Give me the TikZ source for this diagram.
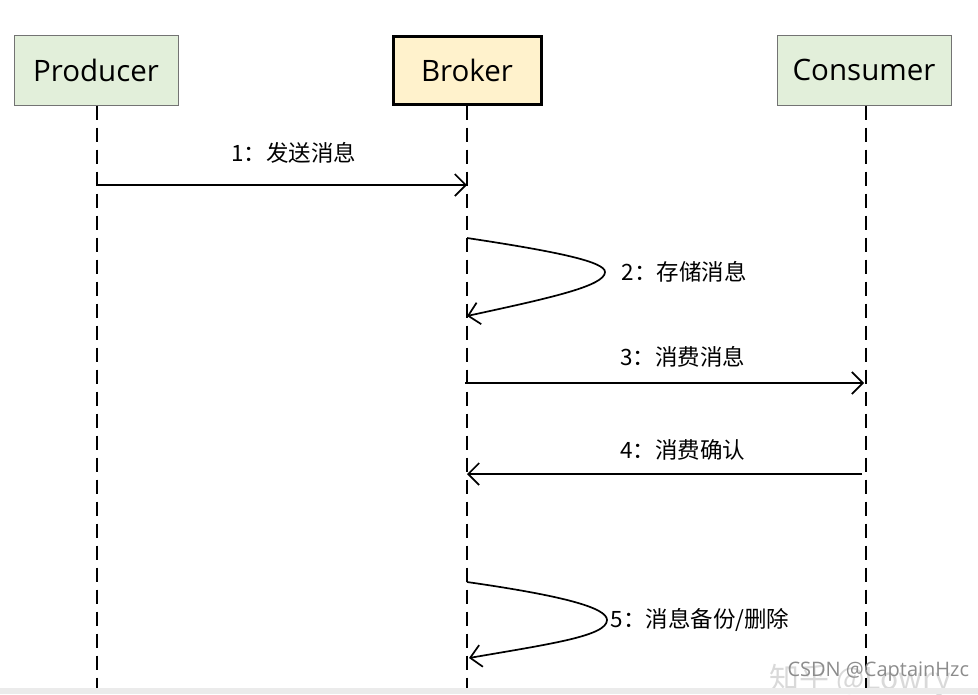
\documentclass[tikz,border=0pt]{standalone}
\usepackage{fontspec}
\setmainfont{Open Sans}
\newfontfamily\cjk{Noto Sans CJK SC}
\usepackage{tikz}
\usetikzlibrary{positioning, arrows.meta}

\definecolor{actorgreen}{HTML}{E2EFDA}
\definecolor{brokeryellow}{HTML}{FFF2CC}

\begin{document}
\begin{tikzpicture}[
    x=1pt, y=-1pt,
    actor/.style={rectangle, draw=black!55, fill=actorgreen, line width=1pt, minimum width=164pt, minimum height=70pt, font=\fontsize{29.5}{32}\selectfont},
    broker/.style={actor, draw=black, fill=brokeryellow, line width=3pt, minimum width=148pt, minimum height=68pt},
    lifeline/.style={line width=1.7pt, dash pattern=on 14pt off 8pt},
    msg/.style={line width=1.7pt, -{Straight Barb[length=11pt, width=22pt, line width=1.7pt]}},
    label/.style={font=\cjk\fontsize{22.5}{25}\selectfont},
    wmark/.style={font=\fontsize{20}{22}\selectfont},
]
\useasboundingbox (0,0) rectangle (978,694);

% Draw the actors
\node[actor] (P) at (96, 70) {Producer};
\node[broker] (B) at (467, 70) {Broker};
\node[actor, minimum width=174pt] (C) at (864, 70) {Consumer};

% lifelines
\coordinate (Pend) at (97, 694);
\coordinate (Bend) at (467, 694);
\coordinate (Cend) at (866, 694);
\draw[lifeline] (P.south -| Pend) -- (Pend);
\draw[lifeline] (B.south) -- (Bend);
\draw[lifeline] (C.south -| Cend) -- (Cend);

% messages
\coordinate (m1s) at (97, 185);
\coordinate (m1e) at (467, 185);
\draw[msg] (m1s) -- (m1e);
\node[label] (l1) at (294, 153) {1：发送消息};

\coordinate (m2s) at (467, 238);
\coordinate (m2t) at (605, 272);
\coordinate (m2e) at (467, 316);
\draw[msg] (m2s) .. controls (560, 252) and (605, 262) .. (m2t)
    .. controls (605, 286) and (550, 298) .. (m2e);
\node[label, anchor=west] (l2) at (618, 272) {2：存储消息};

\coordinate (m3s) at (465, 383);
\coordinate (m3e) at (864, 383);
\draw[msg] (m3s) -- (m3e);
\node[label] (l3) at (683, 357) {3：消费消息};

\coordinate (m4s) at (862, 474);
\coordinate (m4e) at (467, 474);
\draw[msg] (m4s) -- (m4e);
\node[label] (l4) at (683, 450) {4：消费确认};

\coordinate (m5s) at (467, 582);
\coordinate (m5t) at (607, 620);
\coordinate (m5e) at (469, 658);
\draw[msg] (m5s) .. controls (565, 596) and (607, 608) .. (m5t)
    .. controls (607, 636) and (550, 644) .. (m5e);
\node[label, anchor=west] (l5) at (607, 620) {5：消息备份/删除};

% watermarks
\node[label, text=black!15, font=\cjk\fontsize{30}{32}\selectfont, anchor=west] (w1) at (766, 680) {知乎 @Lowry};
\node[wmark, text=black!45, anchor=west] (w2) at (784, 672) {CSDN @CaptainHzc};
\fill[black!8] (0, 688) rectangle (978, 694);

\end{tikzpicture}
\end{document}
